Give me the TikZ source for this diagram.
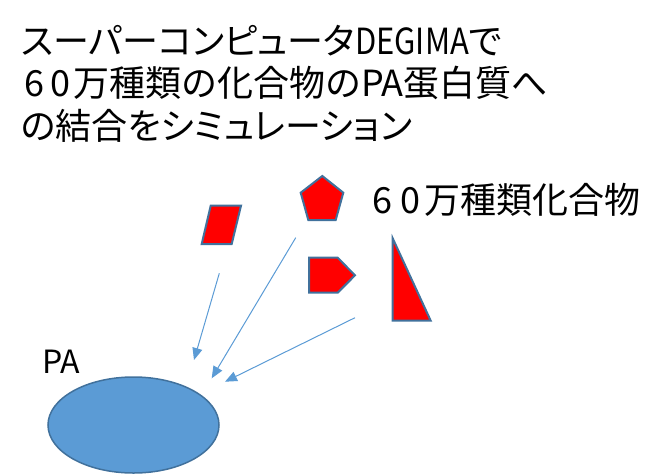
\documentclass[tikz,border=0pt]{standalone}
\usepackage{graphicx}
\usepackage{fontspec}
\setmainfont[RawFeature=+palt]{Noto Sans CJK JP}
\newfontfamily\fullfont{Noto Sans CJK JP}
\newcommand\dgt[2][26pt]{\makebox[#1][c]{#2}}
\usetikzlibrary{arrows.meta,shapes.geometric}
\definecolor{shapered}{HTML}{FF0000}
\definecolor{shapeedge}{HTML}{41719C}
\definecolor{pablue}{HTML}{5B9BD5}
\begin{document}
\begin{tikzpicture}[x=1pt,y=-1pt,
  titletext/.style={font=\fontsize{36}{40}\selectfont, inner sep=0pt, anchor=base west},
  compound/.style={fill=shapered, draw=shapeedge, line width=2pt, line join=miter},
  bindarrow/.style={draw=pablue, line width=1pt, -{Triangle[length=12pt,width=10pt]}},
  protein/.style={ellipse, fill=pablue, draw=shapeedge, line width=1.5pt, minimum width=171pt, minimum height=96pt, inner sep=0pt}]
\useasboundingbox (0,0) rectangle (666,475);
% title
\node[titletext] (t1) at (21,54) {スーパーコンピュータ\scalebox{0.86}[1]{DEGIMA}で};
\node[titletext, font=\fontsize{36}{40}\fullfont] (t2) at (21,96) {\dgt{6}\dgt{0}万種類の化合物のPA蛋白質へ};
\node[titletext] (t3) at (21,139) {の結合をシミュレーション};
% label
\node[titletext] (lbl) at (368,213) {\dgt[28pt]{6}\dgt[28pt]{0}万種類化合物};
\node[titletext, font=\fontsize{32}{36}\selectfont] (pa) at (42,373) {PA};
% protein
\node[protein] (prot) at (133.5,425) {};
% compounds
\coordinate (p1) at (210.7,205.7); \coordinate (p2) at (241,205.7);
\coordinate (p3) at (231.7,244); \coordinate (p4) at (201.7,244);
\draw[compound] (p1) -- (p2) -- (p3) -- (p4) -- cycle;
\coordinate (q1) at (322.3,176); \coordinate (q2) at (343.3,192.7);
\coordinate (q3) at (335.7,220); \coordinate (q4) at (308.3,220);
\coordinate (q5) at (300.7,192.7);
\draw[compound] (q1) -- (q2) -- (q3) -- (q4) -- (q5) -- cycle;
\coordinate (h1) at (309,257.7); \coordinate (h2) at (337.7,257.7);
\coordinate (h3) at (355,275.3); \coordinate (h4) at (337.7,292.7);
\coordinate (h5) at (309,292.7);
\draw[compound] (h1) -- (h2) -- (h3) -- (h4) -- (h5) -- cycle;
\coordinate (r1) at (392.7,238.3); \coordinate (r2) at (430.7,320.7);
\coordinate (r3) at (392.7,320.7);
\draw[compound] (r1) -- (r2) -- (r3) -- cycle;
% arrows
\coordinate (a1s) at (219.3,273.3); \coordinate (a1e) at (194,360);
\coordinate (a2s) at (295.7,237.7); \coordinate (a2e) at (211.7,378.3);
\coordinate (a3s) at (355,317.7); \coordinate (a3e) at (225,381.7);
\draw[bindarrow] (a1s) -- (a1e);
\draw[bindarrow] (a2s) -- (a2e);
\draw[bindarrow] (a3s) -- (a3e);
\end{tikzpicture}
\end{document}
